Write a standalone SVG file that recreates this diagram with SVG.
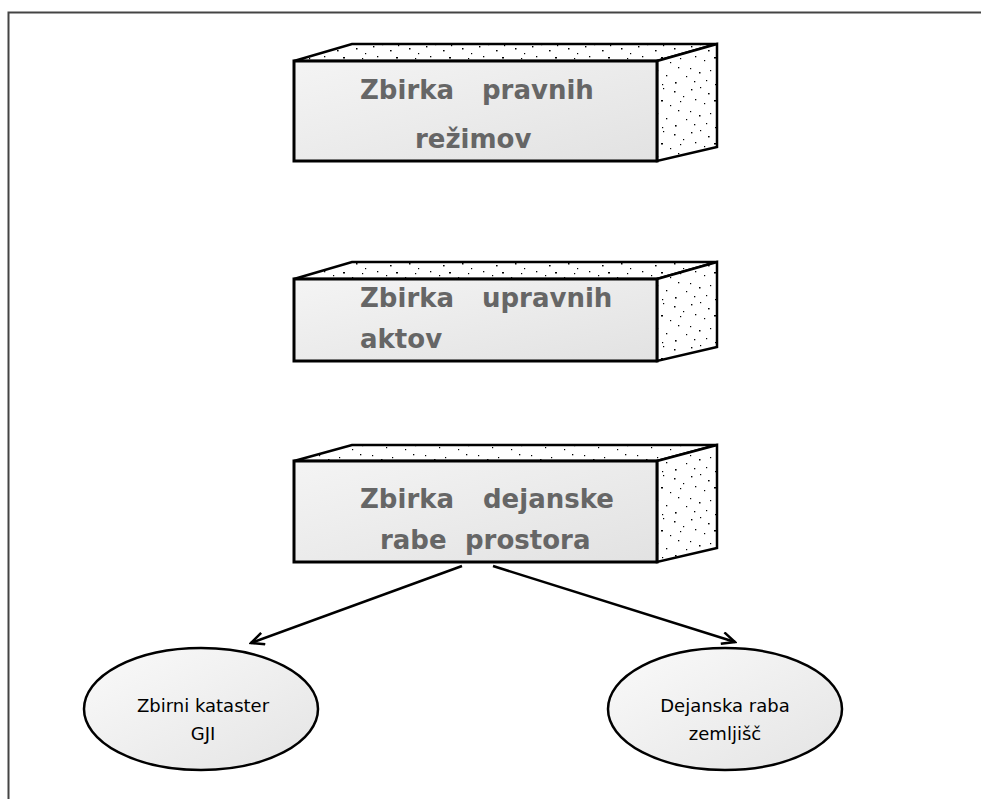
<svg xmlns="http://www.w3.org/2000/svg" width="981" height="799" viewBox="0 0 981 799">
  <defs>
    <style>
      .frame { fill: none; stroke: #444; stroke-width: 2; }
      .front { fill: url(#faceGrad); stroke: #000; stroke-width: 3; stroke-linejoin: miter; }
      .side { fill: url(#stipple); stroke: #000; stroke-width: 2.5; stroke-linejoin: miter; }
      .boxText { font-family: "DejaVu Sans", Verdana, sans-serif; font-weight: bold; font-size: 26px; fill: #666; }
      .oval { fill: url(#ovalGrad); stroke: #000; stroke-width: 2.5; }
      .ovalText { font-family: "DejaVu Sans", Verdana, sans-serif; font-size: 18px; fill: #000; text-anchor: middle; }
      .link { fill: none; stroke: #000; stroke-width: 2.5; }
    </style>
    <linearGradient id="faceGrad" x1="0" y1="0" x2="1" y2="1">
      <stop offset="0" stop-color="#f4f4f4"/>
      <stop offset="1" stop-color="#e2e2e2"/>
    </linearGradient>
    <linearGradient id="ovalGrad" x1="0" y1="0" x2="1" y2="1">
      <stop offset="0" stop-color="#fafafa"/>
      <stop offset="1" stop-color="#e4e4e4"/>
    </linearGradient>
    <!-- speckled texture for the top and side faces -->
    <pattern id="stipple" width="53" height="43" patternUnits="userSpaceOnUse">
      <rect width="53" height="43" fill="#fff"/>
      <g fill="#000">
        <rect x="2" y="3" width="1.4" height="1.4"/>
        <rect x="11" y="1" width="1.2" height="1.2"/>
        <rect x="19" y="7" width="1.6" height="1.4"/>
        <rect x="27" y="2" width="1.2" height="1.2"/>
        <rect x="38" y="5" width="1.5" height="1.5"/>
        <rect x="47" y="10" width="1.2" height="1.2"/>
        <rect x="6" y="13" width="1.3" height="1.3"/>
        <rect x="15" y="17" width="1.2" height="1.2"/>
        <rect x="25" y="14" width="2" height="1.5"/>
        <rect x="34" y="19" width="1.2" height="1.2"/>
        <rect x="42" y="24" width="1.3" height="1.3"/>
        <rect x="1" y="25" width="1.2" height="1.2"/>
        <rect x="10" y="29" width="1.5" height="1.5"/>
        <rect x="21" y="27" width="1.2" height="1.2"/>
        <rect x="30" y="32" width="1.3" height="1.3"/>
        <rect x="50" y="33" width="1.2" height="1.2"/>
        <rect x="5" y="38" width="1.3" height="1.3"/>
        <rect x="17" y="37" width="1.2" height="1.2"/>
        <rect x="39" y="39" width="1.6" height="1.6"/>
        <rect x="26" y="41" width="1.2" height="1.2"/>
        <rect x="44" y="15" width="1.2" height="1.2"/>
      </g>
    </pattern>
    <marker id="openArrow" markerWidth="16" markerHeight="14" refX="14" refY="7" orient="auto" markerUnits="userSpaceOnUse">
      <path d="M1,1 L14,7 L1,13" fill="none" stroke="#000" stroke-width="2.5"/>
    </marker>
  </defs>

  <!-- page frame -->
  <path class="frame" d="M8.5,799 V12.5 H981"/>

  <g id="zbirka-pravnih-rezimov">
    <polygon class="side" points="294,61 352,44 717,44 657,61"/>
    <polygon class="side" points="657,61 717,44 717,147 657,161"/>
    <rect class="front" x="294" y="61" width="363" height="100"/>
    <text class="boxText"><tspan x="360" y="99">Zbirka</tspan><tspan x="482" y="99">pravnih</tspan><tspan x="415" y="148">režimov</tspan></text>
  </g>

  <g id="zbirka-upravnih-aktov">
    <polygon class="side" points="294,279 352,262 717,262 657,279"/>
    <polygon class="side" points="657,279 717,262 717,347 657,361"/>
    <rect class="front" x="294" y="279" width="363" height="82"/>
    <text class="boxText"><tspan x="360" y="307">Zbirka</tspan><tspan x="482" y="307">upravnih</tspan><tspan x="360" y="348">aktov</tspan></text>
  </g>

  <g id="zbirka-dejanske-rabe-prostora">
    <polygon class="side" points="294,461 352,445 717,445 657,461"/>
    <polygon class="side" points="657,461 717,445 717,548 657,562"/>
    <rect class="front" x="294" y="461" width="363" height="101"/>
    <text class="boxText"><tspan x="360" y="508">Zbirka</tspan><tspan x="483" y="508">dejanske</tspan><tspan x="380" y="549">rabe</tspan><tspan x="465" y="549">prostora</tspan></text>
  </g>

  <g id="connectors">
    <line class="link" x1="462" y1="566" x2="251" y2="643" marker-end="url(#openArrow)"/>
    <line class="link" x1="493" y1="566" x2="735" y2="642" marker-end="url(#openArrow)"/>
  </g>

  <g id="zbirni-kataster-gji">
    <ellipse class="oval" cx="201" cy="709" rx="117" ry="61"/>
    <text class="ovalText"><tspan x="203" y="712">Zbirni kataster</tspan><tspan x="203" y="740">GJI</tspan></text>
  </g>

  <g id="dejanska-raba-zemljisc">
    <ellipse class="oval" cx="725" cy="709" rx="117" ry="61"/>
    <text class="ovalText"><tspan x="725" y="712">Dejanska raba</tspan><tspan x="725" y="740">zemljišč</tspan></text>
  </g>
</svg>
